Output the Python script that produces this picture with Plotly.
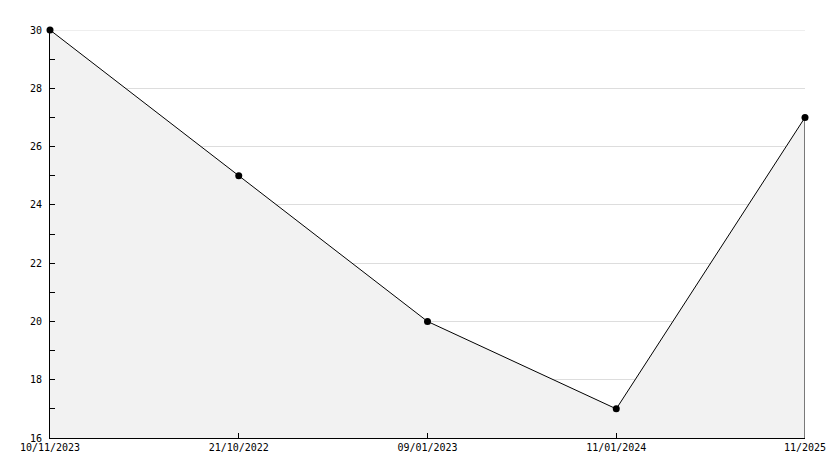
import plotly.graph_objects as go

dates = ['10/11/2023', '21/10/2022', '09/01/2023', '11/01/2024', '11/2025']
values = [30, 25, 20, 17, 27]
y_min, y_max = 16, 30

xs = list(range(len(dates)))

fig = go.Figure()
fig.add_trace(go.Scatter(
    x=xs, y=values,
    mode='lines+markers',
    line=dict(color='black', width=1),
    marker=dict(color='black', size=7, symbol='circle'),
    fill='tozeroy', fillcolor='#f2f2f2',
    cliponaxis=False,
    showlegend=False,
))
# right edge of the filled area
fig.add_trace(go.Scatter(
    x=[xs[-1], xs[-1]], y=[y_min, values[-1]],
    mode='lines', line=dict(color='black', width=1),
    showlegend=False, hoverinfo='skip',
))
# top gridline (plotly drops the one on the edge)
fig.add_hline(y=y_max, line=dict(color='#dddddd', width=1), layer='below')

fig.update_layout(
    width=834, height=468,
    margin=dict(l=50, r=29, t=30, b=30),
    paper_bgcolor='white', plot_bgcolor='white',
    font=dict(family='DejaVu Sans Mono', size=10, color='black'),
    xaxis=dict(
        range=[0, len(dates) - 1],
        tickvals=xs, ticktext=dates,
        showgrid=False, zeroline=False,
        showline=True, linecolor='black', linewidth=1,
        ticks='inside', ticklen=5, tickcolor='black',
        automargin=False,
    ),
    yaxis=dict(
        range=[y_min, y_max],
        dtick=2, tick0=16,
        showgrid=True, gridcolor='#dddddd', gridwidth=1,
        zeroline=False,
        showline=True, linecolor='black', linewidth=1,
        ticks='inside', ticklen=5, tickcolor='black',
        ticklabelstandoff=5,
        automargin=False,
        minor=dict(dtick=1, ticks='inside', ticklen=5, tickcolor='black', showgrid=False),
    ),
)

# drop the default 8px body margin so the figure sits at the page corner
fig.write_html('out.html', config={'displayModeBar': False},
               post_script="document.body.style.margin='0';document.body.style.overflow='hidden';")
